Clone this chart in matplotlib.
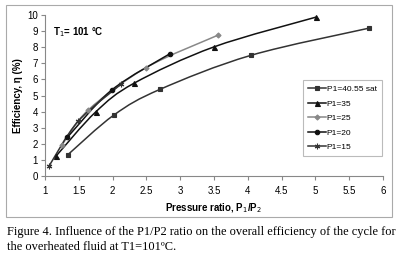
import numpy as np
import matplotlib.pyplot as plt
from matplotlib.path import Path
from matplotlib.patches import PathPatch, Rectangle
from matplotlib.lines import Line2D

# dane
labels = ["P1=40.55 sat", "P1=35", "P1=25", "P1=20", "P1=15"]
x_sat = [1.34, 2.02, 2.70, 4.05, 5.80]
y_sat = [1.33, 3.79, 5.38, 7.50, 9.19]
x_35 = [1.16, 1.75, 2.32, 3.50, 5.01]
y_35 = [1.22, 3.98, 5.77, 8.02, 9.87]
x_25 = [1.25, 1.64, 2.49, 3.56]
y_25 = [1.92, 4.10, 6.72, 8.75]
x_20 = [1.33, 1.99, 2.85]
y_20 = [2.40, 5.35, 7.60]
x_15 = [1.06, 1.49, 2.13]
y_15 = [0.62, 3.40, 5.72]

xs = [x_sat, x_35, x_25, x_20, x_15]
ys = [y_sat, y_35, y_25, y_20, y_15]
colors = ["#333333", "#111111", "#888888", "#111111", "#333333"]
markers = ["s", "^", "D", "o", (6, 2, 0)]
msizes = [3.2, 3.6, 2.6, 3.2, 4]

plt.rcParams['font.family'] = ['Liberation Sans', 'DejaVu Sans']

fig = plt.figure(figsize=(4.08, 2.58), dpi=100)
ax = fig.add_axes([0.1103, 0.3178, 0.8284, 0.6240])

# ramka wykresu
fig.patches.append(Rectangle((6 / 408, 1 - 217 / 258), 386 / 408, 212 / 258,
                             transform=fig.transFigure, fill=False,
                             edgecolor="#aaaaaa", linewidth=0.8))


def smooth_path(x, y):
    # krzywa Beziera przez punkty (jak wygladzanie w Excelu)
    p = np.column_stack([x, y])
    n = len(p)
    verts = [p[0]]
    codes = [Path.MOVETO]
    for i in range(n - 1):
        p0 = p[i - 1] if i > 0 else p[i]
        p3 = p[i + 2] if i + 2 < n else p[i + 1]
        c1 = p[i] + (p[i + 1] - p0) / 6
        c2 = p[i + 1] - (p3 - p[i]) / 6
        verts += [c1, c2, p[i + 1]]
        codes += [Path.CURVE4] * 3
    return Path(verts, codes)


handles = []
for x, y, c, m, ms, lab in zip(xs, ys, colors, markers, msizes, labels):
    ax.add_patch(PathPatch(smooth_path(x, y), fill=False, edgecolor=c, linewidth=1.1))
    ax.plot(x, y, linestyle="none", marker=m, color=c, markersize=ms,
            markeredgewidth=0.8)
    handles.append(Line2D([], [], color=c, marker=m, markersize=ms,
                          linewidth=1.1, markeredgewidth=0.8, label=lab))

ax.set_xlim(1, 6)
ax.set_ylim(0, 10)
ax.set_xticks(np.arange(1, 6.01, 0.5))
ax.set_xticklabels(["1", "1.5", "2", "2.5", "3", "3.5", "4", "4.5", "5", "5.5", "6"])
ax.set_yticks(range(0, 11))
ax.tick_params(labelsize=7, length=3, color="#888888", width=0.8, pad=2)
ax.tick_params(axis="x", pad=4)
for s in ["top", "right"]:
    ax.spines[s].set_visible(False)
for s in ["left", "bottom"]:
    ax.spines[s].set_color("#888888")
    ax.spines[s].set_linewidth(0.8)

ax.set_xlabel("Pressure ratio, P$_1$/P$_2$", fontsize=7, fontweight="bold", labelpad=4)
ax.set_ylabel("Efficiency, η (%)", fontsize=7, fontweight="bold", labelpad=3)
ax.text(1.12, 8.95, "T$_1$= 101 °C", fontsize=7, fontweight="bold", va="center")

leg = ax.legend(handles=handles, loc="upper left", bbox_to_anchor=(0.75, 0.62),
                fontsize=6, frameon=True, fancybox=False, handlelength=2.2,
                handletextpad=0.1, labelspacing=0.8, borderpad=0.6)
leg.get_frame().set_edgecolor("#aaaaaa")
leg.get_frame().set_linewidth(0.8)

# podpis rysunku
fig.text(7 / 408, 1 - 232 / 258,
         "Figure 4. Influence of the P1/P2 ratio on the overall efficiency of the cycle for",
         fontsize=8.9, family="Liberation Serif", va="center")
fig.text(7 / 408, 1 - 247 / 258, "the overheated fluid at T1=101ºC.",
         fontsize=8.9, family="Liberation Serif", va="center")

fig.savefig("out.png", dpi=100)
